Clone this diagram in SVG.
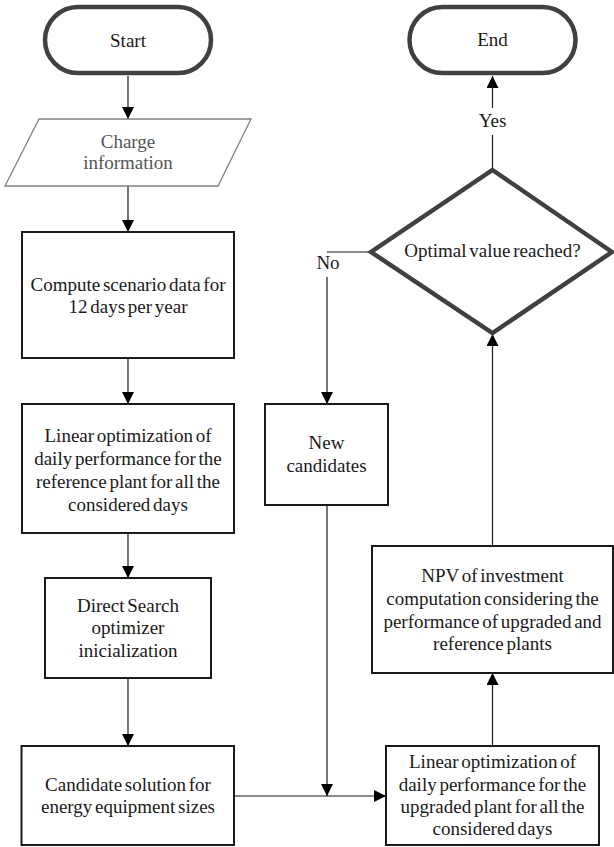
<svg xmlns="http://www.w3.org/2000/svg" width="614" height="847" viewBox="0 0 614 847">
<style>
text{font-family:'Liberation Serif','DejaVu Serif',serif;font-size:19px;fill:#1a1a1a;text-anchor:middle;word-spacing:-2px}
.term{fill:#fff;stroke:#404040;stroke-width:4.5}
.box{fill:#fff;stroke:#1a1a1a;stroke-width:2}
.io{fill:#fff;stroke:#808080;stroke-width:1.3}
.io-t{fill:#555}
.c{fill:none;stroke:#1a1a1a;stroke-width:1.2}
</style>
<defs>
<marker id="ah" markerUnits="userSpaceOnUse" markerWidth="12" markerHeight="12" viewBox="0 0 12 12" refX="12" refY="6" orient="auto">
<path d="M0,0 L12,6 L0,12 Z" fill="#000"/>
</marker>
</defs>
<g id="connectors">
<line class="c" x1="128" y1="76" x2="128" y2="119" marker-end="url(#ah)"/>
<line class="c" x1="128" y1="186" x2="128" y2="232" marker-end="url(#ah)"/>
<line class="c" x1="128" y1="358" x2="128" y2="404" marker-end="url(#ah)"/>
<line class="c" x1="128" y1="533" x2="128" y2="578" marker-end="url(#ah)"/>
<line class="c" x1="128" y1="678" x2="128" y2="746" marker-end="url(#ah)"/>
<line class="c" x1="234" y1="796" x2="386" y2="796" marker-end="url(#ah)"/>
<line class="c" x1="327" y1="505" x2="327" y2="796" marker-end="url(#ah)"/>
<line class="c" x1="492.5" y1="746" x2="492.5" y2="673" marker-end="url(#ah)"/>
<line class="c" x1="492.5" y1="546" x2="492.5" y2="334" marker-end="url(#ah)"/>
<line class="c" x1="492.5" y1="170" x2="492.5" y2="135"/>
<line class="c" x1="492.5" y1="108" x2="492.5" y2="76" marker-end="url(#ah)"/>
<text font-family="Liberation Serif" x="492.5" y="127">Yes</text>
<polyline class="c" points="371,252 327,252"/>
<line class="c" x1="327" y1="277" x2="327" y2="404" marker-end="url(#ah)"/>
<text font-family="Liberation Serif" x="328" y="269">No</text>
</g>
<g id="start">
<rect class="term" x="45" y="7" width="166" height="66" rx="33"/>
<text font-family="Liberation Serif" x="128" y="47">Start</text>
</g>
<g id="end">
<rect class="term" x="409.5" y="7" width="166" height="66" rx="33"/>
<text font-family="Liberation Serif" x="492.5" y="46">End</text>
</g>
<g id="charge">
<polygon class="io" points="39,119 251,119 218,186 5,186"/>
<text font-family="Liberation Serif" class="io-t" x="128" y="148">Charge</text>
<text font-family="Liberation Serif" class="io-t" x="128" y="169">information</text>
</g>
<g id="compute">
<rect class="box" x="22" y="232" width="212" height="126"/>
<text font-family="Liberation Serif" x="128" y="291">Compute scenario data for</text>
<text font-family="Liberation Serif" x="128" y="313">12 days per year</text>
</g>
<g id="linear-ref">
<rect class="box" x="22" y="404" width="212" height="129"/>
<text font-family="Liberation Serif" x="128" y="442">Linear optimization of</text>
<text font-family="Liberation Serif" x="128" y="465">daily performance for the</text>
<text font-family="Liberation Serif" x="128" y="488">reference plant for all the</text>
<text font-family="Liberation Serif" x="128" y="511">considered days</text>
</g>
<g id="direct-search">
<rect class="box" x="45" y="578" width="166" height="100"/>
<text font-family="Liberation Serif" x="128" y="612">Direct Search</text>
<text font-family="Liberation Serif" x="128" y="634">optimizer</text>
<text font-family="Liberation Serif" x="128" y="657">inicialization</text>
</g>
<g id="candidate">
<rect class="box" x="21.5" y="746" width="212.5" height="99"/>
<text font-family="Liberation Serif" x="128" y="791">Candidate solution for</text>
<text font-family="Liberation Serif" x="128" y="813">energy equipment sizes</text>
</g>
<g id="upgraded">
<rect class="box" x="386" y="746" width="213" height="99"/>
<text font-family="Liberation Serif" x="492.5" y="768">Linear optimization of</text>
<text font-family="Liberation Serif" x="492.5" y="791">daily performance for the</text>
<text font-family="Liberation Serif" x="492.5" y="813">upgraded plant for all the</text>
<text font-family="Liberation Serif" x="492.5" y="835">considered days</text>
</g>
<g id="npv">
<rect class="box" x="372" y="546" width="241" height="127"/>
<text font-family="Liberation Serif" x="492.5" y="582">NPV of investment</text>
<text font-family="Liberation Serif" x="492.5" y="605">computation considering the</text>
<text font-family="Liberation Serif" x="492.5" y="628">performance of upgraded and</text>
<text font-family="Liberation Serif" x="492.5" y="650">reference plants</text>
</g>
<g id="new-candidates">
<rect class="box" x="265" y="404" width="123" height="101"/>
<text font-family="Liberation Serif" x="326.5" y="449">New</text>
<text font-family="Liberation Serif" x="326.5" y="472">candidates</text>
</g>
<g id="decision">
<polygon class="term" points="492.5,170 612,252 492.5,333 371,252"/>
<text font-family="Liberation Serif" x="492.5" y="257">Optimal value reached?</text>
</g>
</svg>
